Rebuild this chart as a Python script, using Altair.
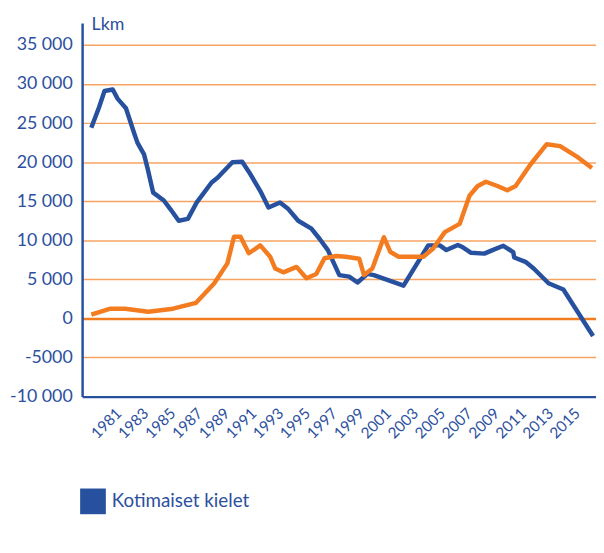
import altair as alt
import pandas as pd

series_names = ["Kotimaiset kielet", "Vieraskieliset"]
series_colors = ["#27509E", "#F47C20"]

blue_x = [1979.34, 1979.91, 1980.32, 1980.93, 1981.30, 1981.91, 1982.52, 1982.76,
          1983.25, 1983.50, 1983.93, 1984.72, 1985.20, 1985.82, 1986.50, 1987.16,
          1988.26, 1988.70, 1989.80, 1990.53, 1991.14, 1991.87, 1992.48, 1993.33,
          1993.95, 1994.68, 1995.66, 1996.26, 1996.88, 1997.73, 1998.46, 1999.08,
          1999.81, 2000.29, 2002.49, 2004.32, 2005.18, 2005.67, 2006.52, 2006.89,
          2007.50, 2008.48, 2009.09, 2009.89, 2010.62, 2010.70, 2011.53, 2012.14,
          2013.24, 2014.34, 2016.54]
blue_y = [24400, 27000, 29100, 29300, 28100, 26900, 23700, 22500,
          21000, 19300, 16100, 15100, 14000, 12500, 12750, 14850,
          17400, 18000, 20000, 20050, 18450, 16300, 14200, 14850,
          14000, 12500, 11500, 10200, 8750, 5550, 5350, 4600,
          5700, 5550, 4200, 9350, 9350, 8750, 9400, 9100,
          8400, 8300, 8750, 9300, 8500, 7800, 7250, 6400,
          4500, 3700, -2250]

orange_x = [1979.34, 1980.76, 1981.86, 1983.57, 1985.40, 1987.11, 1988.46, 1989.43,
            1989.92, 1990.40, 1991.02, 1991.87, 1992.60, 1992.97, 1993.58, 1994.56,
            1995.29, 1996.02, 1996.63, 1997.49, 1998.22, 1999.20, 1999.56, 2000.18,
            2001.03, 2001.52, 2002.13, 2003.96, 2004.69, 2005.55, 2006.65, 2007.38,
            2007.99, 2008.60, 2009.45, 2010.18, 2010.80, 2011.90, 2013.11, 2014.10,
            2015.31, 2016.46]
orange_y = [500, 1250, 1250, 850, 1250, 2000, 4500, 7050,
            10450, 10450, 8350, 9350, 7900, 6400, 5900, 6600,
            5150, 5700, 7700, 8000, 7900, 7650, 5550, 6400,
            10400, 8500, 7900, 7900, 8950, 11050, 12100, 15700,
            16950, 17500, 16950, 16400, 16950, 19700, 22300, 22050,
            20750, 19250]

x_tick_values = [1981, 1983, 1985, 1987, 1989, 1991, 1993, 1995, 1997,
                 1999, 2001, 2003, 2005, 2007, 2009, 2011, 2013, 2015]
y_tick_values = [-10000, -5000, 0, 5000, 10000, 15000, 20000, 25000, 30000, 35000]

df = pd.concat([
    pd.DataFrame({"year": blue_x, "value": blue_y, "series": series_names[0]}),
    pd.DataFrame({"year": orange_x, "value": orange_y, "series": series_names[1]}),
], ignore_index=True)

FONT = "Lato"
TXT = "#2C4F9E"

x_scale = alt.Scale(domain=[1978.66, 2016.76], nice=False, zero=False)
y_scale = alt.Scale(domain=[-10000, 37800], nice=False, zero=False)

chart = alt.Chart(df).mark_line(strokeJoin="round").encode(
    x=alt.X("year:Q", scale=x_scale, title=None,
            axis=alt.Axis(values=x_tick_values, format="d", labelAngle=-45,
                          labelFontSize=15.5, labelColor=TXT, labelFont=FONT,
                          labelOverlap=False, labelBound=False, labelSeparation=0,
                          ticks=False, labelPadding=9, grid=False,
                          domainColor="#27509E", domainWidth=2.5, zindex=1)),
    y=alt.Y("value:Q", scale=y_scale, title="Lkm",
            axis=alt.Axis(values=y_tick_values,
                          labelExpr="datum.value == -5000 ? '-5000' : (datum.value < 0 ? '-' : '') + replace(format(abs(datum.value), ','), ',', ' ')",
                          labelFontSize=18, labelColor=TXT, labelFont=FONT,
                          labelOverlap=False,
                          ticks=False, labelPadding=10,
                          domainColor="#27509E", domainWidth=2.5,
                          grid=True,
                          gridColor={"condition": {"test": "datum.value === 0", "value": "#F47C20"}, "value": "#F7A462"},
                          gridWidth={"condition": {"test": "datum.value === 0", "value": 2.5}, "value": 1.5},
                          gridOpacity={"condition": {"test": "datum.value === -10000", "value": 0}, "value": 1},
                          titleAngle=0, titleAlign="left", titleBaseline="middle",
                          titleX=9, titleY=2, titleFontSize=18, titleFontWeight="normal",
                          titleColor=TXT, titleFont=FONT)),
    color=alt.Color("series:N", scale=alt.Scale(domain=series_names, range=series_colors),
                    legend=alt.Legend(title=None, orient="none",
                                      legendX={"expr": "-2"}, legendY=471,
                                      direction="vertical", symbolType="square", symbolSize=169,
                                      symbolStrokeWidth=13,
                                      labelFontSize=19, labelColor=TXT,
                                      labelFont=FONT, labelOffset=6,
                                      rowPadding=7,
                                      labelLimit=400)),
    strokeWidth=alt.value(4.5),
).properties(
    width=520, height=378,
    autosize=alt.AutoSizeParams(type="none"),
    padding={"left": 75, "top": 12, "right": 0, "bottom": 155},
).configure_view(stroke=None)

chart.save("out.html", embed_options={"renderer": "svg", "actions": False})
